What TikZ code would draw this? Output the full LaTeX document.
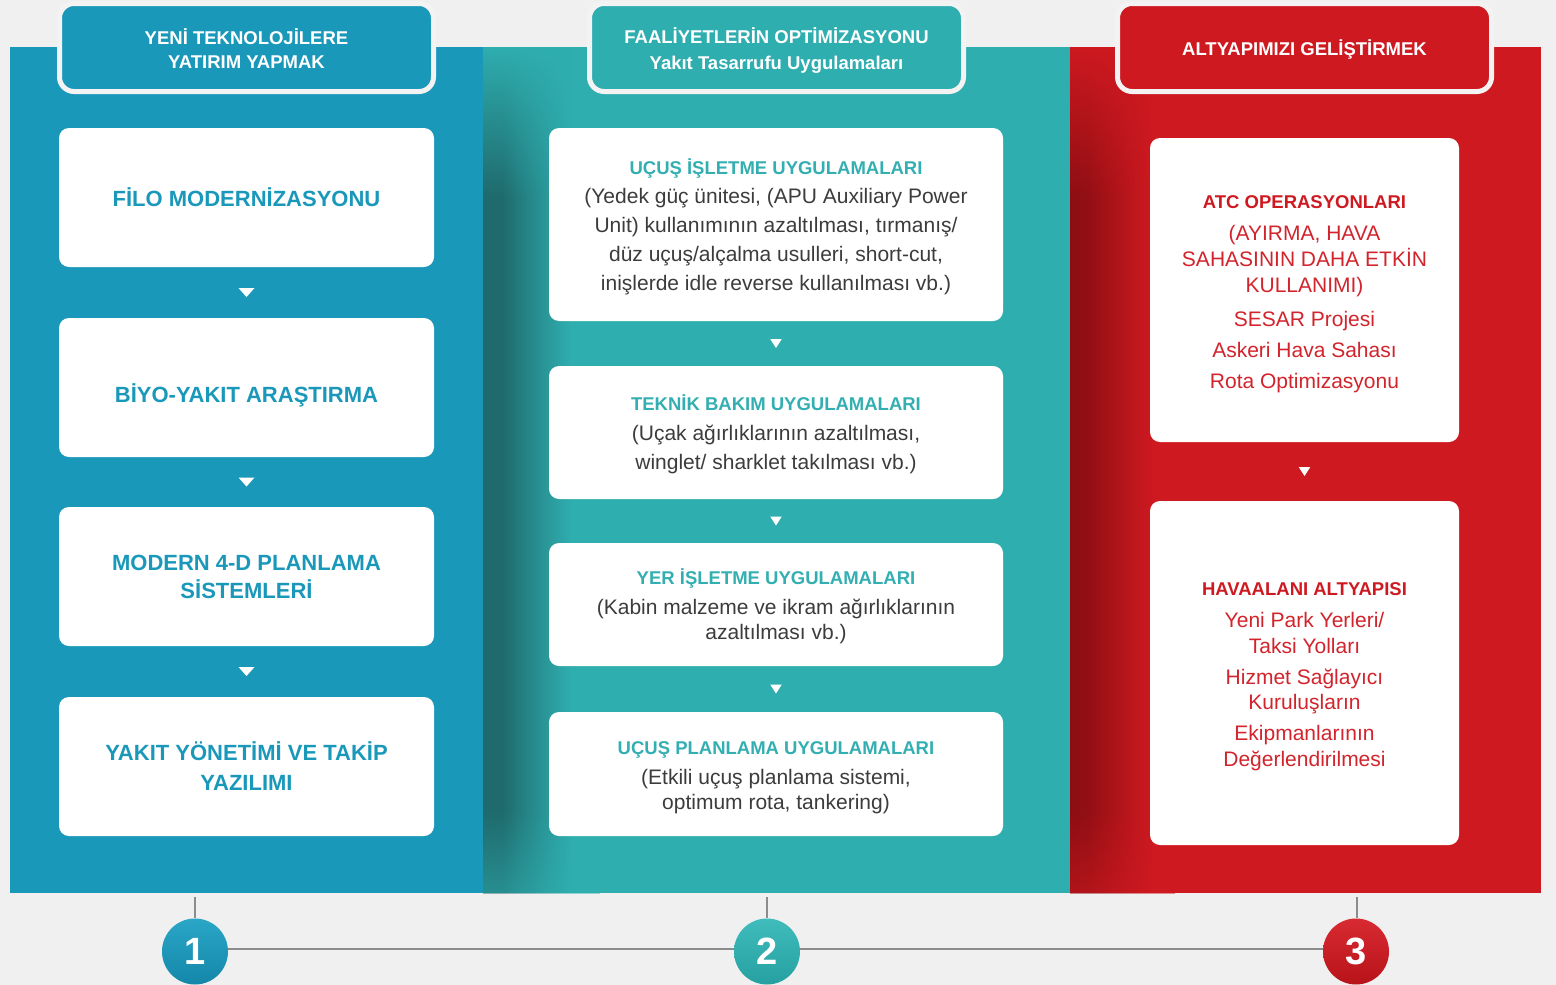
\documentclass[tikz,border=0pt]{standalone}
\usepackage{fontspec}
\setmainfont{Liberation Sans}
\usetikzlibrary{calc,fadings}

\definecolor{bgc}{HTML}{F0F0F0}
\definecolor{pblue}{HTML}{1A98BA}
\definecolor{pteal}{HTML}{2FAEB0}
\definecolor{pred}{HTML}{CE1920}
\definecolor{tealtxt}{HTML}{33AFB2}
\definecolor{bodytxt}{HTML}{3C3C3C}
\definecolor{redtxt}{HTML}{D2242C}
\definecolor{tdark}{HTML}{1F6A6C}
\definecolor{rdark}{HTML}{8C0E13}
\definecolor{tabline}{HTML}{F3F3F3}
\definecolor{linegray}{HTML}{8C8C8C}
\definecolor{c1a}{HTML}{2AA6C6}
\definecolor{c1b}{HTML}{1487A9}
\definecolor{c2a}{HTML}{40BCBD}
\definecolor{c2b}{HTML}{26A0A1}
\definecolor{c3a}{HTML}{D82A31}
\definecolor{c3b}{HTML}{B8131A}

\pgfdeclarehorizontalshading{tshadow}{100bp}{color(0bp)=(tdark); color(25bp)=(tdark); color(33bp)=(tdark); color(43bp)=(tdark!65!pteal); color(53bp)=(tdark!30!pteal); color(63bp)=(pteal); color(100bp)=(pteal)}
\pgfdeclarehorizontalshading{rshadow}{100bp}{color(0bp)=(rdark); color(25bp)=(rdark); color(33bp)=(rdark!92!pred); color(45bp)=(rdark!55!pred); color(55bp)=(rdark!25!pred); color(65bp)=(pred); color(100bp)=(pred)}
\pgfdeclareverticalshading{vfadeshade}{100bp}{color(0bp)=(pgftransparent!55); color(25bp)=(pgftransparent!55); color(30bp)=(pgftransparent!0); color(66bp)=(pgftransparent!0); color(75bp)=(pgftransparent!100); color(100bp)=(pgftransparent!100)}
\pgfdeclarefading{vfade}{\pgfuseshading{vfadeshade}}

\tikzset{
  tabbox/.style={draw=tabline, line width=5pt, rounded corners=14.5pt, minimum width=374pt, minimum height=88pt, inner sep=0pt},
  tabtext/.style={inner sep=0pt, align=center, text=white, font=\bfseries\fontsize{18.5}{24}\selectfont},
  wbox/.style={fill=white, rounded corners=10pt, inner sep=0pt},
  lbox/.style={wbox, minimum width=375pt, minimum height=139pt},
  mbox/.style={wbox, minimum width=454pt},
  rbox/.style={wbox, minimum width=309pt},
  ltext/.style={inner sep=0pt, align=center, text=pblue, font=\bfseries\fontsize{22}{28}\selectfont},
  mtext/.style={inner sep=0pt, align=center, text=bodytxt},
  rtext/.style={inner sep=0pt, align=center, text=redtxt},
  numc/.style={circle, minimum size=66pt, inner sep=0pt, text=white, font=\bfseries\fontsize{38}{38}\selectfont, shading angle=45},
  tline/.style={draw=linegray, line width=2pt},
  pics/bigtri/.style={code={\fill[white] (-8,-4.5) -- (8,-4.5) -- (0,4.5) -- cycle;}},
  pics/smalltri/.style={code={\fill[white] (-5.8,-4.5) -- (5.8,-4.5) -- (0,4.5) -- cycle;}}
}
\newcommand{\mttl}[1]{{\bfseries\fontsize{18.5}{18.5}\selectfont\color{tealtxt}#1}}
\newcommand{\rttl}[1]{{\bfseries\fontsize{18.5}{18.5}\selectfont\color{pred}#1}}

\begin{document}
\begin{tikzpicture}[x=1pt, y=-1pt]
\useasboundingbox (0,0) rectangle (1556,985);
\fill[bgc] (0,0) rectangle (1556,985);

% panels
\fill[pblue] (10,47) rectangle (483,893);
\fill[pteal] (483,47) rectangle (1070,893);
\fill[pred] (1070,47) rectangle (1541,893);
\shade[shading=tshadow, path fading=vfade] (483,47) rectangle (600,893);
\shade[shading=rshadow, path fading=vfade] (1070,47) rectangle (1175,893);

% header tabs
\node[tabbox, fill=pblue] (t1) at (246.5,47.5) {};
\node[tabbox, fill=pteal] (t2) at (776.5,47.5) {};
\node[tabbox, fill=pred] (t3) at (1304.5,47.5) {};
\node[tabtext] (t1t) at ($(t1.center)+(0,1)$) {YENİ TEKNOLOJİLERE\\YATIRIM YAPMAK};
\node[tabtext, font=\bfseries\fontsize{18.5}{26}\selectfont] (t2t) at ($(t2.center)+(0,3)$) {FAALİYETLERİN OPTİMİZASYONU\\Yakıt Tasarrufu Uygulamaları};
\node[tabtext] (t3t) at ($(t3.center)+(0,2)$) {ALTYAPIMIZI GELİŞTİRMEK};

% left column
\node[lbox] (l1) at (246.5,197.5) {};
\node[lbox] (l2) at (246.5,387.5) {};
\node[lbox] (l3) at (246.5,576.5) {};
\node[lbox] (l4) at (246.5,766.5) {};
\node[ltext] (l1t) at (l1.center) {FİLO MODERNİZASYONU};
\node[ltext] (l2t) at ($(l2.center)+(0,8)$) {BİYO-YAKIT ARAŞTIRMA};
\node[ltext] (l3t) at (l3.center) {MODERN 4-D PLANLAMA\\SİSTEMLERİ};
\node[ltext, font=\bfseries\fontsize{22}{30}\selectfont] (l4t) at (l4.center) {YAKIT YÖNETİMİ VE TAKİP\\YAZILIMI};

% middle column
\node[mbox, minimum height=193pt] (m1) at (776,224.5) {};
\node[mbox, minimum height=133pt] (m2) at (776,432.5) {};
\node[mbox, minimum height=123pt] (m3) at (776,604.5) {};
\node[mbox, minimum height=124pt] (m4) at (776,774) {};
\node[mtext, font=\fontsize{21}{29}\selectfont] (m1t) at ($(m1.center)+(0,2)$)
  {\mttl{UÇUŞ İŞLETME UYGULAMALARI}\\(Yedek güç ünitesi, (APU Auxiliary Power\\Unit) kullanımının azaltılması, tırmanış/\\düz uçuş/alçalma usulleri, short-cut,\\inişlerde idle reverse kullanılması vb.)};
\node[mtext, font=\fontsize{21}{29.5}\selectfont] (m2t) at ($(m2.center)+(0,2)$)
  {\mttl{TEKNİK BAKIM UYGULAMALARI}\\(Uçak ağırlıklarının azaltılması,\\winglet/ sharklet takılması vb.)};
\node[mtext, font=\fontsize{21}{25}\selectfont] (m3t) at ($(m3.center)+(0,2)$)
  {\mttl{YER İŞLETME UYGULAMALARI}\\[5pt](Kabin malzeme ve ikram ağırlıklarının\\azaltılması vb.)};
\node[mtext, font=\fontsize{21}{25}\selectfont] (m4t) at ($(m4.center)+(0,3.5)$)
  {\mttl{UÇUŞ PLANLAMA UYGULAMALARI}\\[5pt](Etkili uçuş planlama sistemi,\\optimum rota, tankering)};

% right column
\node[rbox, minimum height=304pt] (r1) at (1304.5,290) {};
\node[rbox, minimum height=344pt] (r2) at (1304.5,673) {};
\node[rtext, font=\fontsize{21}{26}\selectfont] (r1t) at ($(r1.center)+(0,4)$)
  {\rttl{ATC OPERASYONLARI}\\[6pt](AYIRMA, HAVA\\SAHASININ DAHA ETKİN\\KULLANIMI)\\[7.5pt]SESAR Projesi\\[5pt]Askeri Hava Sahası\\[5pt]Rota Optimizasyonu};
\node[rtext, font=\fontsize{21}{25.5}\selectfont] (r2t) at ($(r2.center)+(0,3.5)$)
  {\rttl{HAVAALANI ALTYAPISI}\\[6.5pt]Yeni Park Yerleri/\\Taksi Yolları\\[5.5pt]Hizmet Sağlayıcı\\Kuruluşların\\[5.5pt]Ekipmanlarının\\Değerlendirilmesi};

% down markers
\path ($(l1.south)!.5!(l2.north)$) pic {bigtri};
\path ($(l2.south)!.5!(l3.north)$) pic {bigtri};
\path ($(l3.south)!.5!(l4.north)$) pic {bigtri};
\path ($(m1.south)!.5!(m2.north)$) pic {smalltri};
\path ($(m2.south)!.5!(m3.north)$) pic {smalltri};
\path ($(m3.south)!.5!(m4.north)$) pic {smalltri};
\path ($(r1.south)!.5!(r2.north)$) pic {smalltri};

% timeline
\node[numc, top color=c1a, bottom color=c1b] (c1) at (195,951.5) {1};
\node[numc, top color=c2a, bottom color=c2b] (c2) at (767,951.5) {2};
\node[numc, top color=c3a, bottom color=c3b] (c3) at (1356,951.5) {3};
\coordinate (v1) at (195,897);
\coordinate (v2) at (767,897);
\coordinate (v3) at (1357,897);
\draw[tline] (v1) -- (c1.north);
\draw[tline] (v2) -- (c2.north);
\draw[tline] (v3) -- (v3 |- c3.north);
\draw[tline] ([yshift=3pt]c1.east) -- ([yshift=3pt]c2.west);
\draw[tline] ([yshift=3pt]c2.east) -- ([yshift=3pt]c3.west);
\end{tikzpicture}
\end{document}
